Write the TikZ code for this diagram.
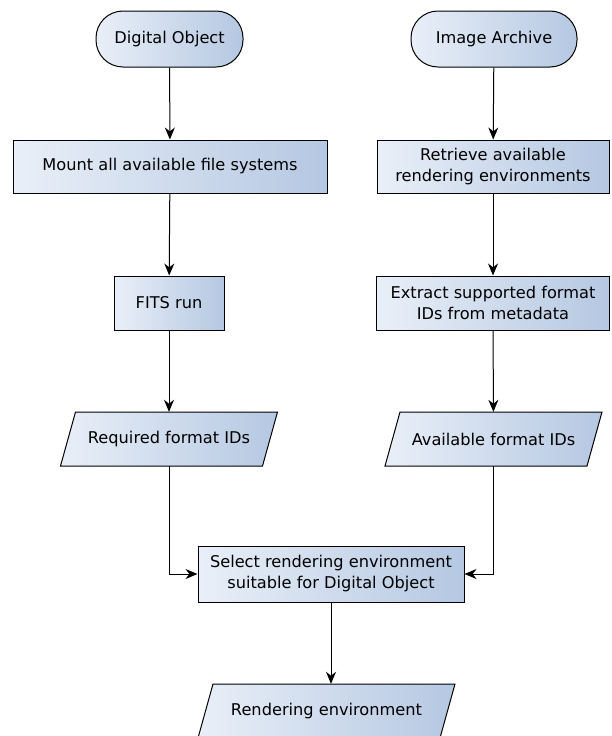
\documentclass[tikz,border=0pt]{standalone}
\usepackage{fontspec}
\setmainfont{DejaVu Sans}
\usetikzlibrary{arrows.meta}
\definecolor{gl}{HTML}{E9EFF8}
\definecolor{gr}{HTML}{B5C8E2}
\newcommand\lw[1]{\raisebox{-2.5pt}{#1}}
\tikzset{
  txt/.style={font=\fontsize{16.2}{21}\selectfont, align=center, inner sep=0pt},
  filled/.style={draw=black, line width=1pt, left color=gl, right color=gr},
  base/.style={filled, txt},
  term/.style={base, rounded corners=27pt, minimum height=56pt},
  proc/.style={base, minimum height=53pt},
  iotext/.style={txt, minimum height=54pt},
  arr/.style={line width=1pt, -{Stealth[length=12pt,width=10pt]}}
}
\newcommand\iobox[5]{%
  \path[filled] ({#2-#4/2},{#3+27}) -- ({#2-#4/2+15},{#3-27}) -- ({#2+#4/2},{#3-27}) -- ({#2+#4/2-15},{#3+27}) -- cycle;
  \node[iotext, minimum width={#4-15}] (#1) at (#2,#3) {#5};}
\begin{document}
\begin{tikzpicture}[x=1pt,y=-1pt]
\useasboundingbox (0,0) rectangle (612,736);
\clip (0,0) rectangle (612,736);
\node[term, minimum width=147pt] (do) at (169.5,39) {\lw{Digital Object}};
\node[term, minimum width=166pt] (ia) at (494,39) {\lw{Image Archive}};
\node[proc, minimum width=314pt] (mount) at (170,166.5) {\lw{Mount all available file systems}};
\node[proc, minimum width=232pt] (retr) at (493,166.5) {\lw{Retrieve available}\\\lw{rendering environments}};
\node[proc, minimum width=110pt, minimum height=54pt] (fits) at (169,303) {\lw{FITS run}};
\node[proc, minimum width=233pt, minimum height=54pt] (extr) at (493,303) {\lw{Extract supported format}\\\lw{IDs from metadata}};
\iobox{req}{169}{439}{217}{\lw{Required format IDs}}
\iobox{avail}{493.5}{439}{217}{\lw{Available format IDs}}
\node[proc, minimum width=266pt, minimum height=56pt] (sel) at (331,574) {\lw{Select rendering environment}\\\lw{suitable for Digital Object}};
\iobox{rend}{326.5}{711}{257}{\lw{Rendering environment}}
\draw[arr] (do) -- (mount);
\draw[arr] (mount) -- (fits);
\draw[arr] (fits) -- (req);
\draw[arr] (ia) -- (retr);
\draw[arr] (retr) -- (extr);
\draw[arr] (extr) -- (avail);
\draw[arr] (req.south) |- (sel.west);
\draw[arr] (avail.south) |- (sel.east);
\draw[arr] (sel.south) -- (sel.south |- rend.north);
\end{tikzpicture}
\end{document}
